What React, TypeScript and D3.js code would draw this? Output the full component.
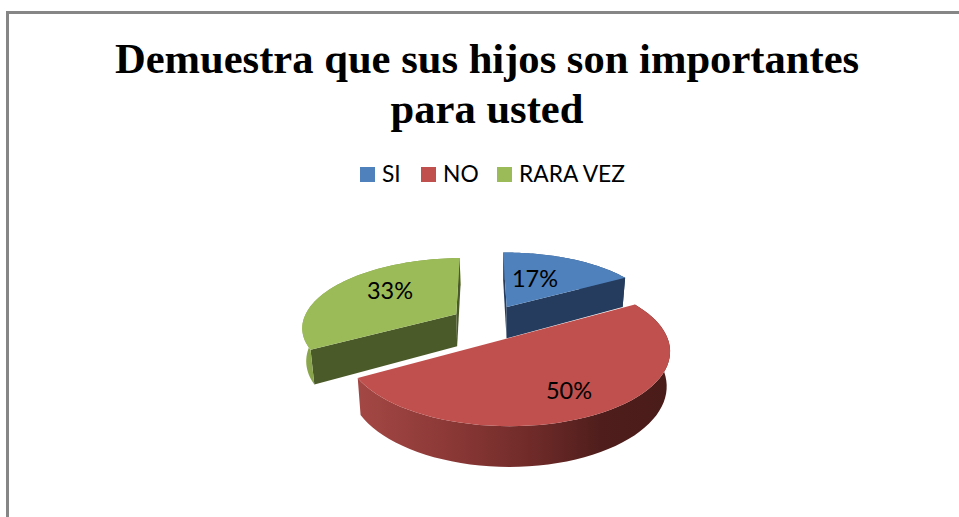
import React from "react";
import * as d3 from "d3";

const titleLines = ["Demuestra que sus hijos son importantes", "para usted"];
const categories = ["SI", "NO", "RARA VEZ"];
const values = [17, 50, 33];
const labels = ["17%", "50%", "33%"];
const colors = ["#4f81bd", "#c0504d", "#9bbb59"];
const cutColors = ["#253c5e", "#8a3836", "#4b5a29"];
const cutVisible = [true, false, true];
const explodeX = [0.045, 0.05, -0.29];
const explodeY = [-0.125, 0.335, -0.01];
const labelX = [535, 569, 390];
const labelY = [278, 390, 290];
const legendX = [360, 421, 497];
const drawOrder = [0, 2, 1];

const W = 959, H = 517;
const CX = 500, CY = 315, SX = 151, SY = 65.5, K = 0.16, DEPTH = 32;
const ROTATE = -0.02;

function project(X: number, Y: number, z = 0): [number, number] {
  const w = 1 / (1 - K * Y);
  const x = CX + SX * X * w * (1 - 0.02 * z);
  const y = CY + SY * Y * w + z * DEPTH * w;
  return [x, y];
}

const pieLayout = d3.pie<number>().sort(null).startAngle(ROTATE).endAngle(2 * Math.PI + ROTATE);
const arcs = pieLayout(values);
const line = d3.line();

function rimPoints(i: number, a0: number, a1: number, z: number) {
  const steps = d3.range(0, 61).map((s) => a0 + ((a1 - a0) * s) / 60);
  return steps.map((t) => project(explodeX[i] + Math.sin(t), explodeY[i] - Math.cos(t), z));
}

export default function App() {
  return (
    <svg width={W} height={H} style={{ position: "fixed", left: 0, top: 0, background: "#fff" }}>
      <defs>
        <linearGradient id="rim1" gradientUnits="userSpaceOnUse" x1="360" x2="668" y1="0" y2="0">
          <stop offset="0" stopColor="#a34744" />
          <stop offset="0.3" stopColor="#8a3836" />
          <stop offset="0.55" stopColor="#702b29" />
          <stop offset="0.78" stopColor="#4f1e1c" />
          <stop offset="1" stopColor="#491b19" />
        </linearGradient>
        <linearGradient id="rim2" gradientUnits="userSpaceOnUse" x1="300" x2="330" y1="0" y2="0">
          <stop offset="0" stopColor="#8fab50" />
          <stop offset="1" stopColor="#7d9843" />
        </linearGradient>
        <linearGradient id="rim0" gradientUnits="userSpaceOnUse" x1="500" x2="630" y1="0" y2="0">
          <stop offset="0" stopColor="#3a5f8c" />
          <stop offset="1" stopColor="#253c5e" />
        </linearGradient>
      </defs>
      <path d={`M7.5 ${H} V12.5 H${W}`} fill="none" stroke="#868686" strokeWidth={3} />
      {titleLines.map((t, i) => (
        <text key={t} x={487} y={73 + i * 50} textAnchor="middle"
          fontFamily="'Liberation Serif', serif" fontWeight="bold" fontSize={42.6} fill="#000">{t}</text>
      ))}
      {categories.map((c, i) => (
        <g key={c}>
          <rect x={legendX[i]} y={167} width={15} height={15} fill={colors[i]} />
          <text x={legendX[i] + 22} y={182} fontFamily="Lato, sans-serif" fontSize={22.8} fill="#000">{c}</text>
        </g>
      ))}
      {drawOrder.map((i) => {
        const a = arcs[i];
        const top = rimPoints(i, a.startAngle, a.endAngle, 0);
        const bottom = rimPoints(i, a.startAngle, a.endAngle, 1);
        const apex = project(explodeX[i], explodeY[i], 0);
        const apexB = project(explodeX[i], explodeY[i], 1);
        const wall = [...top, ...bottom.slice().reverse()] as [number, number][];
        const cutA = [apex, top[0], bottom[0], apexB] as [number, number][];
        const cutB = [apex, top[60], bottom[60], apexB] as [number, number][];
        const face = [apex, ...top] as [number, number][];
        return (
          <g key={categories[i]}>
            {cutVisible[i] && <path d={line(cutA) + "Z"} fill={cutColors[i]} />}
            <path d={line(wall) + "Z"} fill={`url(#rim${i})`} />
            {cutVisible[i] && <path d={line(cutB) + "Z"} fill={cutColors[i]} />}
            <path d={line(face) + "Z"} fill={colors[i]} />
          </g>
        );
      })}
      {labels.map((l, i) => (
        <text key={l} x={labelX[i]} y={labelY[i]} textAnchor="middle" dominantBaseline="central"
          fontFamily="Lato, sans-serif" fontSize={23.5} fill="#000">{l}</text>
      ))}
    </svg>
  );
}
